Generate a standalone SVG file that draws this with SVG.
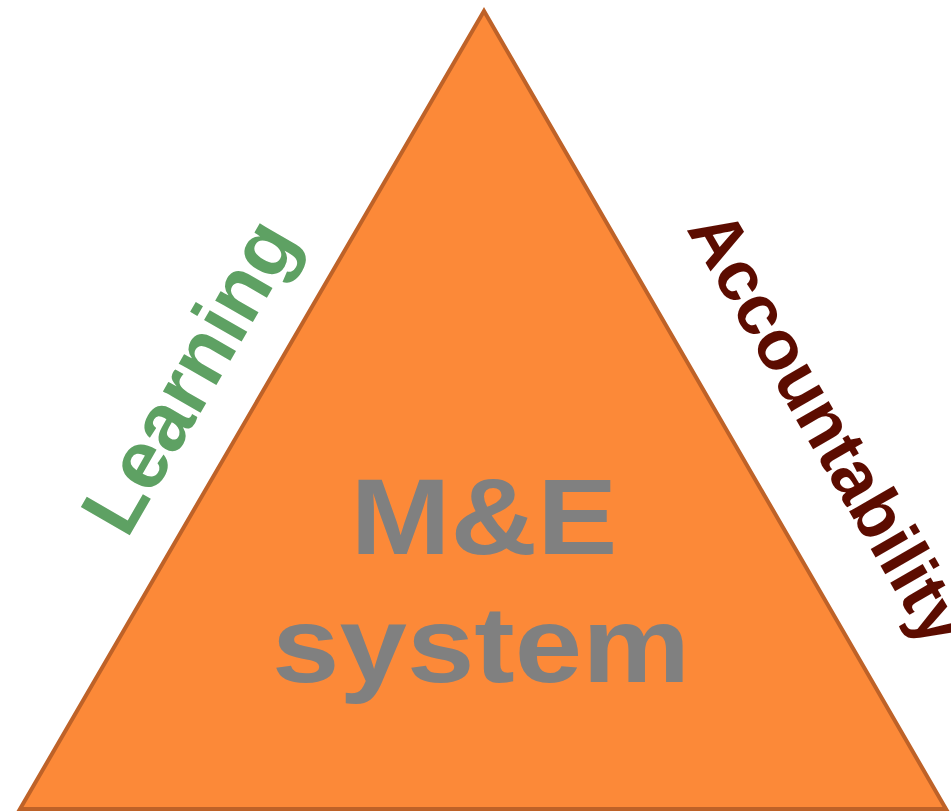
<svg xmlns="http://www.w3.org/2000/svg" width="951" height="812" viewBox="0 0 951 812">
<style>
.tri{fill:#FC8938;stroke:#BE6228;stroke-width:4;stroke-linejoin:miter}
.t{font-family:"Liberation Sans",Arial,sans-serif;font-weight:bold}
.me{fill:#808080;font-size:108px}
.learn{fill:#5EA163;font-size:82px}
.acc{fill:#5C0C00;font-size:71px}
</style>
<rect width="951" height="812" fill="#ffffff"/>
<g id="triangle">
<path class="tri" d="M484,11 L20,809 L946,809 Z"/>
</g>
<g id="center-label">
<text class="t me" x="484" y="554" text-anchor="middle" textLength="267" lengthAdjust="spacingAndGlyphs">M&amp;E</text>
<text class="t me" x="481" y="682" text-anchor="middle" textLength="418" lengthAdjust="spacingAndGlyphs">system</text>
</g>
<g id="learning">
<text class="t learn" transform="translate(127,540) rotate(-60)">Learning</text>
</g>
<g id="accountability">
<text class="t acc" transform="translate(686,229) rotate(60)" textLength="486" lengthAdjust="spacingAndGlyphs">Accountability</text>
</g>
<g id="connectors"/>
</svg>
